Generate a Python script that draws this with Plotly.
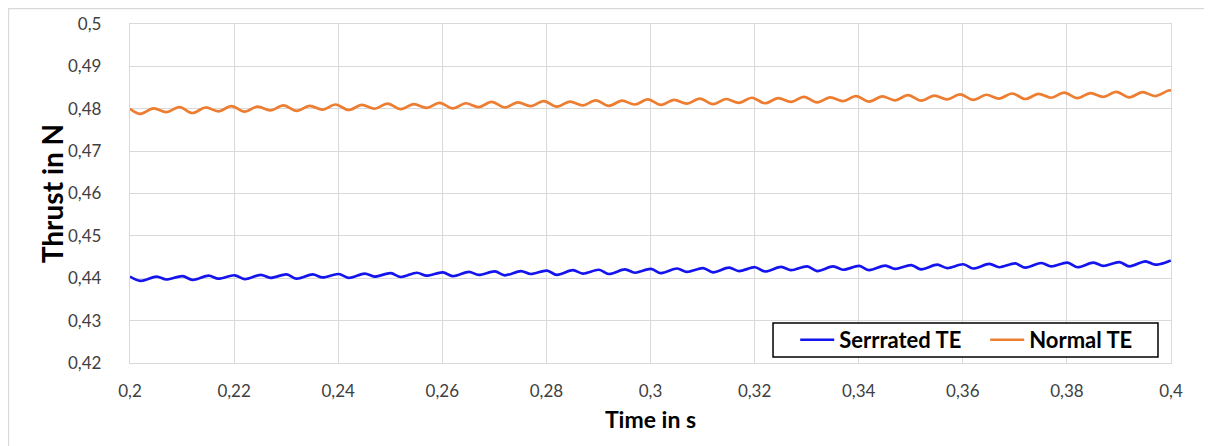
import plotly.graph_objects as go

# Sample times (s): start, then alternating trough/peak times, then end
orange_time = [0.2] + [round(0.202 + 0.005 * (i // 2) + (0.0025 if i % 2 else 0.0), 4) for i in range(80)] + [0.4]
blue_time = [0.2] + [round(0.202 + 0.005 * (i // 2) + (0.0031 if i % 2 else 0.0), 4) for i in range(80)] + [0.4]

# Normal TE thrust (N): start, (trough, peak) pairs, end
normal_te = [0.4800,
    0.4788, 0.4801, 0.4792, 0.4804, 0.4790, 0.4803, 0.4794, 0.4806,
    0.4793, 0.4805, 0.4796, 0.4808, 0.4795, 0.4807, 0.4798, 0.4810,
    0.4797, 0.4809, 0.4800, 0.4812, 0.4799, 0.4811, 0.4802, 0.4814,
    0.4801, 0.4813, 0.4804, 0.4816, 0.4803, 0.4815, 0.4806, 0.4818,
    0.4805, 0.4817, 0.4808, 0.4820, 0.4807, 0.4819, 0.4810, 0.4822,
    0.4809, 0.4821, 0.4812, 0.4824, 0.4811, 0.4823, 0.4814, 0.4826,
    0.4813, 0.4825, 0.4816, 0.4828, 0.4815, 0.4827, 0.4818, 0.4830,
    0.4817, 0.4829, 0.4820, 0.4832, 0.4819, 0.4831, 0.4822, 0.4834,
    0.4821, 0.4833, 0.4824, 0.4836, 0.4823, 0.4835, 0.4826, 0.4838,
    0.4825, 0.4837, 0.4828, 0.4840, 0.4827, 0.4839, 0.4830, 0.4843,
    0.4843]

# Serrated TE thrust (N): start, (trough, peak) pairs, end
serrated_te = [0.4404,
    0.4394, 0.4404, 0.4397, 0.4405, 0.4396, 0.4406, 0.4399, 0.4407,
    0.4398, 0.4408, 0.4401, 0.4409, 0.4399, 0.4409, 0.4402, 0.4410,
    0.4401, 0.4411, 0.4404, 0.4412, 0.4403, 0.4413, 0.4406, 0.4414,
    0.4405, 0.4415, 0.4408, 0.4416, 0.4407, 0.4417, 0.4410, 0.4418,
    0.4408, 0.4419, 0.4411, 0.4420, 0.4410, 0.4421, 0.4413, 0.4422,
    0.4412, 0.4423, 0.4415, 0.4424, 0.4414, 0.4425, 0.4417, 0.4426,
    0.4416, 0.4427, 0.4419, 0.4428, 0.4417, 0.4428, 0.4420, 0.4429,
    0.4419, 0.4430, 0.4422, 0.4431, 0.4421, 0.4432, 0.4424, 0.4433,
    0.4423, 0.4434, 0.4426, 0.4435, 0.4425, 0.4436, 0.4428, 0.4437,
    0.4426, 0.4437, 0.4429, 0.4438, 0.4428, 0.4440, 0.4432, 0.4443,
    0.4444]

series_names = ["Serrrated TE", "Normal TE"]
x_title = "Time in s"
y_title = "Thrust in N"

FONT = "Lato"
GRID = "#d9d9d9"

fig = go.Figure()
fig.add_trace(go.Scatter(
    x=blue_time, y=serrated_te, mode="lines", name=series_names[0],
    line=dict(color="#1414ee", width=2.7, shape="spline", smoothing=0.9),
    hoverinfo="skip"))
fig.add_trace(go.Scatter(
    x=orange_time, y=normal_te, mode="lines", name=series_names[1],
    line=dict(color="#ed7d31", width=2.7, shape="spline", smoothing=1.0),
    hoverinfo="skip"))

fig.update_layout(
    width=1204, height=438,
    margin=dict(l=122, r=41, t=16, b=83),
    paper_bgcolor="white", plot_bgcolor="white",
    separators=", ",
    font=dict(family=FONT, size=17, color="#404040"),
    showlegend=True,
    legend=dict(
        orientation="h", x=0.6390, y=0.068, xanchor="left", yanchor="middle",
        bgcolor="rgba(0,0,0,0)", borderwidth=0,
        font=dict(family=FONT, size=22, color="black", weight="bold"),
        itemwidth=34, entrywidthmode="pixels", entrywidth=141,
        traceorder="normal"),
    xaxis=dict(
        range=[0.2, 0.4], dtick=0.02, tick0=0.2, automargin=False,
        showgrid=True, gridcolor=GRID, gridwidth=1.3,
        showline=True, linecolor=GRID, linewidth=1.3, mirror=True,
        zeroline=False, ticks="", ticklen=0, ticklabelstandoff=12,
        tickfont=dict(family=FONT, size=17, color="#404040"),
        title=dict(text=x_title, standoff=12,
                   font=dict(family=FONT, size=23, color="black", weight="bold")),
    ),
    yaxis=dict(
        range=[0.42, 0.5], dtick=0.01, tick0=0.42, automargin=False,
        showgrid=True, gridcolor=GRID, gridwidth=1.3,
        showline=True, linecolor=GRID, linewidth=1.3, mirror=True,
        zeroline=False, ticks="", ticklen=0, ticklabelstandoff=24,
        tickfont=dict(family=FONT, size=17, color="#404040"),
    ),
    annotations=[dict(
        text=y_title, xref="paper", yref="paper", x=-0.0752, y=0.5,
        xanchor="center", yanchor="middle", textangle=-90, showarrow=False,
        font=dict(family=FONT, size=28, color="black", weight="bold"))],
    shapes=[
        dict(type="rect", xref="paper", yref="paper",
             x0=-0.1167, x1=1.05, y0=-0.3, y1=1.0457,
             line=dict(color="#d9d9d9", width=1.3), fillcolor="rgba(0,0,0,0)",
             layer="below"),
        dict(type="rect", xref="paper", yref="paper",
             x0=0.6177, x1=0.9875, y0=0.0177, y1=0.118,
             line=dict(color="black", width=1.5), fillcolor="white",
             layer="above"),
    ],
)

fig.write_html("out.html")
